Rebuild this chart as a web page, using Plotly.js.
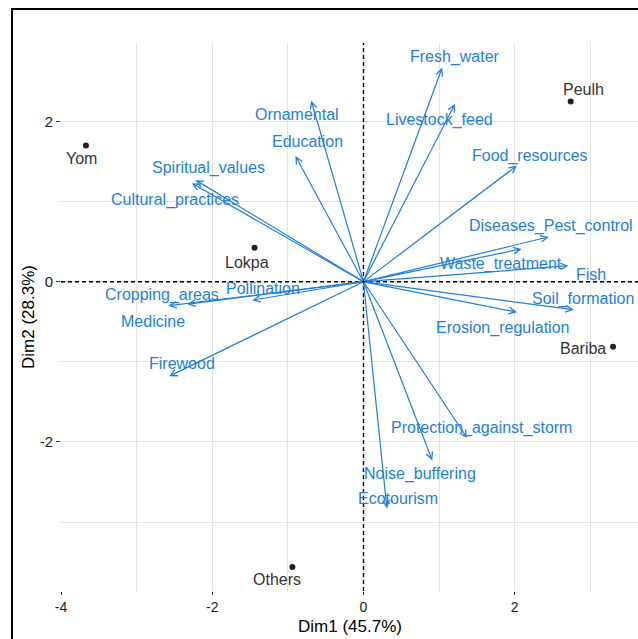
<!DOCTYPE html>
<html>
<head>
<meta charset="utf-8">
<script src="https://cdn.plot.ly/plotly-3.0.1.min.js"></script>
<style>
  html, body { margin: 0; padding: 0; background: #fff; }
  #wrap { position: relative; width: 638px; height: 639px; overflow: hidden; }
  #chart { position: absolute; left: 0; top: 0; width: 638px; height: 639px; }
  #frameL { position: absolute; left: 11px; top: 8px; width: 2px; height: 640px; background: #000; }
  #frameT { position: absolute; left: 11px; top: 8px; width: 640px; height: 2px; background: #000; }
</style>
</head>
<body>
<div id="wrap">
  <div id="chart"></div>
  <div id="frameL"></div>
  <div id="frameT"></div>
</div>
<script>
// ---- Data: individuals (ethnic groups) ----
const groups = ["Yom", "Peulh", "Lokpa", "Bariba", "Others"];
const groupDim1 = [-3.67, 2.74, -1.44, 3.30, -0.94];
const groupDim2 = [1.70, 2.25, 0.425, -0.81, -3.56];

// ---- Data: variables (ecosystem services) ----
const services = ["Fresh_water", "Livestock_feed", "Food_resources", "Diseases_Pest_control",
  "Waste_treatment", "Fish", "Soil_formation", "Erosion_regulation", "Protection_against_storm",
  "Noise_buffering", "Ecotourism", "Ornamental", "Education", "Spiritual_values",
  "Cultural_practices", "Cropping_areas", "Medicine", "Pollination", "Firewood"];
const serviceDim1 = [1.04, 1.21, 2.03, 2.45, 2.09, 2.71, 2.78, 2.03, 1.37, 0.91, 0.31,
  -0.69, -0.90, -2.22, -2.27, -2.33, -2.58, -1.47, -2.57];
const serviceDim2 = [2.67, 2.22, 1.45, 0.56, 0.41, 0.20, -0.35, -0.38, -1.95, -2.23, -2.83,
  2.26, 1.57, 1.27, 1.23, -0.28, -0.30, -0.23, -1.18];

// ---- Axis tick labels ----
const xTicks = [-4, -2, 0, 2];
const xTickText = ["-4", "-2", "0", "2"];
const yTicks = [-2, 0, 2];
const yTickText = ["-2", "0", "2"];
const xTitle = "Dim1 (45.7%)";
const yTitle = "Dim2 (28.3%)";

// ---- Layout-only: label offsets (pixels) for repelled text ----
const serviceLabelShift = [[13, 11], [-15, -16], [13, 10], [2, 11], [-21, -15], [23, -9],
  [9, 11], [-15, -16], [14, 10], [-12, -14], [11, 10], [-14, -14], [12, 14], [13, 12],
  [-17, -17], [-25, 9], [-15, -16], [11, 12], [13, 13]];
const groupLabelShift = [[-4, -13], [13, 12], [-8, -15], [-30, -2], [-15, -13]];

const BLUE = "#1f7ee0";
const FONT = "Liberation Sans, Arial, sans-serif";

const traces = [{
  type: "scatter", mode: "markers",
  x: groupDim1, y: groupDim2, text: groups,
  marker: { color: "#222", size: 6 },
  hoverinfo: "text", showlegend: false
}];

const annotations = [];
// arrows
services.forEach((s, i) => {
  annotations.push({
    x: serviceDim1[i], y: serviceDim2[i], xref: "x", yref: "y",
    ax: 0, ay: 0, axref: "x", ayref: "y",
    text: "", showarrow: true, arrowhead: 5, arrowsize: 1.1, arrowwidth: 1.2,
    arrowcolor: BLUE, standoff: 0, startstandoff: 0
  });
});
// variable labels
services.forEach((s, i) => {
  annotations.push({
    x: serviceDim1[i], y: serviceDim2[i], xref: "x", yref: "y",
    xshift: serviceLabelShift[i][0], yshift: serviceLabelShift[i][1],
    text: s, showarrow: false, font: { family: FONT, size: 16, color: BLUE },
    xanchor: "center", yanchor: "middle"
  });
});
// group labels
groups.forEach((g, i) => {
  annotations.push({
    x: groupDim1[i], y: groupDim2[i], xref: "x", yref: "y",
    xshift: groupLabelShift[i][0], yshift: groupLabelShift[i][1],
    text: g, showarrow: false, font: { family: FONT, size: 16, color: "#333" },
    xanchor: "center", yanchor: "middle"
  });
});
// axis titles
annotations.push({
  text: xTitle, xref: "paper", yref: "paper", x: 0.5, y: 0, yshift: -35,
  xanchor: "center", yanchor: "middle", showarrow: false,
  font: { family: FONT, size: 17, color: "#000" }
});
annotations.push({
  text: yTitle, xref: "paper", yref: "paper", x: 0, y: 0.5, xshift: -33,
  xanchor: "center", yanchor: "middle", textangle: -90, showarrow: false,
  font: { family: FONT, size: 17, color: "#000" }
});

const gridCol = "#e3e3e3";
const layout = {
  width: 638, height: 639,
  margin: { l: 61, r: 0, t: 43, b: 48, pad: 0 },
  paper_bgcolor: "#fff", plot_bgcolor: "#fff",
  font: { family: FONT, color: "#333" },
  showlegend: false,
  xaxis: {
    range: [-4.0, 3.63], tickmode: "array", tickvals: xTicks, ticktext: xTickText,
    ticks: "outside", ticklen: 3, tickwidth: 1, tickcolor: "#333",
    tickfont: { family: FONT, size: 14, color: "#222" },
    showgrid: true, gridcolor: gridCol, gridwidth: 1,
    minor: { dtick: 1, tick0: 0, showgrid: true, gridcolor: gridCol, gridwidth: 1, ticks: "" },
    zeroline: false, showline: false, fixedrange: true
  },
  yaxis: {
    range: [-3.86, 2.98], tickmode: "array", tickvals: yTicks, ticktext: yTickText,
    ticks: "outside", ticklen: 4, tickwidth: 1, tickcolor: "#333",
    tickfont: { family: FONT, size: 15, color: "#222" },
    showgrid: true, gridcolor: gridCol, gridwidth: 1,
    minor: { dtick: 1, tick0: 0, showgrid: true, gridcolor: gridCol, gridwidth: 1, ticks: "" },
    zeroline: false, showline: false, fixedrange: true
  },
  shapes: [
    { type: "line", xref: "x", yref: "paper", x0: 0, x1: 0, y0: 0, y1: 1,
      line: { color: "#000", width: 1.4, dash: "4px,3px" }, layer: "above" },
    { type: "line", xref: "paper", yref: "y", x0: 0, x1: 1, y0: 0, y1: 0,
      line: { color: "#000", width: 1.4, dash: "4px,3px" }, layer: "above" }
  ],
  annotations: annotations
};

Plotly.newPlot("chart", traces, layout, { displayModeBar: false, staticPlot: true });
</script>
</body>
</html>
